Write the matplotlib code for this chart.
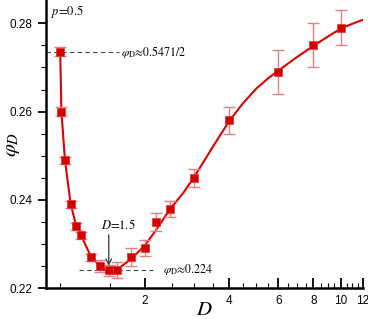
import numpy as np
import matplotlib.pyplot as plt
from matplotlib.ticker import FixedLocator, NullFormatter

plt.rcParams['mathtext.fontset'] = 'stix'
plt.rcParams['font.family'] = ['Liberation Sans', 'DejaVu Sans']

# simulation points
D = [1.0, 1.01, 1.04, 1.09, 1.14, 1.19, 1.29, 1.39, 1.49, 1.59,
     1.79, 2.0, 2.2, 2.47, 3.0, 4.0, 6.0, 8.0, 10.0]
phi = [0.2736, 0.2600, 0.2490, 0.2390, 0.2340, 0.2320, 0.2270, 0.2250, 0.2240, 0.2240,
       0.2270, 0.2290, 0.2350, 0.2380, 0.2450, 0.2580, 0.2690, 0.2750, 0.2790]
err = [0.001, 0.001, 0.0008, 0.0008, 0.0008, 0.0008, 0.0008, 0.0013, 0.0012, 0.0018,
       0.002, 0.0018, 0.002, 0.0018, 0.002, 0.003, 0.005, 0.005, 0.004]

# fitted curve
fit_D = [1.0, 1.01, 1.04, 1.09, 1.14, 1.19, 1.29, 1.39, 1.49, 1.59, 1.79, 2.0,
         2.2, 2.47, 2.75, 3.0, 3.5, 4.0, 4.5, 5.0, 5.5, 6.0, 7.0, 8.0, 9.0, 10.0, 11.0, 12.0]
fit_phi = [0.2736, 0.2600, 0.2490, 0.2390, 0.2342, 0.2318, 0.2270, 0.2250, 0.2239, 0.2241,
           0.2266, 0.2296, 0.2332, 0.2380, 0.2416, 0.2451, 0.2520, 0.2578, 0.2620, 0.2652,
           0.2675, 0.2693, 0.2724, 0.2749, 0.2770, 0.2788, 0.2799, 0.2808]

xticks = [2, 4, 6, 8, 10, 12]
xminor = [1.0, 1.5, 2.5, 3.0, 3.5, 4.5, 5.0, 5.5, 6.5, 7.0, 7.5, 8.5, 9.0, 9.5,
          10.5, 11.0, 11.5]
yticks = [0.22, 0.24, 0.26, 0.28]

fig = plt.figure(figsize=(3.68, 3.19), dpi=100)
ax = fig.add_axes([0.125, 0.097, 0.861, 0.903])

ax.plot(fit_D, fit_phi, color='#dd0000', lw=1.5, zorder=2)
ax.errorbar(D, phi, yerr=err, fmt='none', ecolor='#e88080', elinewidth=1.0,
            capsize=4, capthick=1.0, zorder=3)
ax.plot(D, phi, 's', color='#d40000', ms=5.5, mec='#e03030', mew=0.5, zorder=4)

ax.set_xscale('log')
ax.set_xlim(0.89, 12)
ax.set_ylim(0.22, 0.2853)
ax.xaxis.set_major_locator(FixedLocator(xticks))
ax.xaxis.set_minor_locator(FixedLocator(xminor))
ax.xaxis.set_minor_formatter(NullFormatter())
ax.set_xticklabels([str(t) for t in xticks])
ax.yaxis.set_major_locator(FixedLocator(yticks))
ax.yaxis.set_minor_locator(FixedLocator(np.arange(0.225, 0.285, 0.005)))
ax.set_yticklabels(['0.22', '0.24', '0.26', '0.28'])

for s in ['top', 'right']:
    ax.spines[s].set_visible(False)
for s in ['left', 'bottom']:
    ax.spines[s].set_linewidth(1.8)
ax.tick_params(axis='x', which='major', direction='in', length=7, width=1.3, labelsize=8.5, pad=5)
ax.tick_params(axis='x', which='minor', direction='in', length=3.5, width=0.8)
ax.tick_params(axis='y', which='major', direction='out', length=6, width=1.3, labelsize=8.5)
ax.tick_params(axis='y', which='minor', direction='out', length=3.5, width=0.8)

ax.set_xlabel(r'$D$', fontsize=15)
ax.set_ylabel(r'$\varphi_D$', fontsize=15)
ax.xaxis.set_label_coords(0.5, -0.073)
ax.yaxis.set_label_coords(-0.107, 0.5)
ax.xaxis.label.set_va('center')
ax.yaxis.label.set_va('center')

serif = ['STIXGeneral', 'Liberation Serif']
ax.text(0.93, 0.2826, r'$p$=0.5', fontsize=9, family=serif, va='center')

ax.plot([0.89, 1.62], [0.27355, 0.27355], ls=(0, (4, 3)), color='#444444', lw=0.8, zorder=1)
ax.text(1.65, 0.27355, r'$\varphi_\mathrm{D}$≈0.5471/2', fontsize=8.5, family=serif, va='center')

ax.plot([1.17, 2.15], [0.224, 0.224], ls=(0, (4, 3)), color='#444444', lw=0.8, zorder=1)
ax.text(2.32, 0.2242, r'$\varphi_\mathrm{D}$≈0.224', fontsize=8.5, family=serif, va='center')

ax.annotate('', xy=(1.49, 0.2244), xytext=(1.49, 0.2327),
            arrowprops=dict(arrowstyle='->', color='#333333', lw=0.9))
ax.text(1.61, 0.2342, r'$D$=1.5', fontsize=9, family=serif, ha='center', va='center')

fig.savefig('out.png', dpi=100)
